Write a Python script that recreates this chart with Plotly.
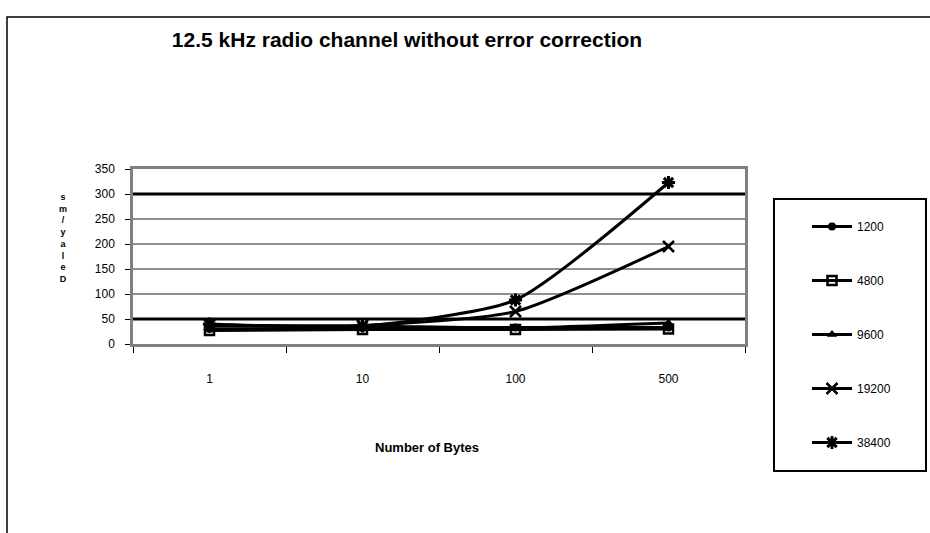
import plotly.graph_objects as go

# Message size categories (bytes) and measured delay (ms) per baud rate
byte_counts = ["1", "10", "100", "500"]
delay_1200 = [30, 32, 33, 33]
delay_4800 = [27, 29, 29, 30]
delay_9600 = [36, 36, 32, 42]
delay_19200 = [38, 37, 65, 195]
delay_38400 = [40, 36, 88, 323]

series = [
    ("1200", delay_1200, dict(symbol="circle", size=8, color="black")),
    ("4800", delay_4800, dict(symbol="square-open", size=9, color="black", line=dict(width=2.5, color="black"))),
    ("9600", delay_9600, dict(symbol="triangle-up", size=9, color="black")),
    ("19200", delay_19200, dict(symbol="x-thin-open", size=11, color="black", line=dict(width=2.5, color="black"))),
    ("38400", delay_38400, dict(symbol="asterisk-open", size=11, color="black", line=dict(width=3, color="black"))),
]

y_ticks = [0, 50, 100, 150, 200, 250, 300, 350]
bold_grid = [50, 300]
y_label = "Delay/ms"

W, H = 930, 533
L, R, T, B = 133, 745, 169, 344
pw, ph = R - L, B - T
FONT = "Liberation Sans, Arial"


def px(x):
    return (x - L) / pw


def py(y):
    return (B - y) / ph


fig = go.Figure()
for name, vals, marker in series:
    fig.add_trace(go.Scatter(
        x=byte_counts, y=vals, name=name, mode="lines+markers",
        line=dict(color="black", width=3, shape="spline", smoothing=0.6),
        marker=marker, legendgroup=name,
    ))

shapes = []
# horizontal gridlines, the 50 and 300 levels drawn heavier
for g in y_ticks[1:-1]:
    heavy = g in bold_grid
    shapes.append(dict(type="line", xref="paper", yref="y", x0=0, x1=1, y0=g, y1=g,
                       line=dict(color="black" if heavy else "#6a6a6a", width=3 if heavy else 1.5),
                       layer="below"))
# outer chart frame
shapes.append(dict(type="rect", xref="paper", yref="paper",
                   x0=px(7), x1=px(940), y0=py(17), y1=py(545),
                   line=dict(color="black", width=1.5), layer="below"))
# legend box
shapes.append(dict(type="rect", xref="paper", yref="paper",
                   x0=px(774), x1=px(926), y0=py(199), y1=py(471),
                   line=dict(color="black", width=2), layer="below"))

annotations = [
    dict(text="<b>Number of Bytes</b>", x=px(427), y=py(457), xref="paper", yref="paper",
         showarrow=False, font=dict(family=FONT, size=13, color="black")),
    # y-axis caption as a stack of letters, read bottom-up
    dict(text="<b>" + "<br>".join(reversed(y_label)) + "</b>", x=px(57), y=py(238),
         xref="paper", yref="paper", showarrow=False, align="center",
         font=dict(family=FONT, size=9, color="black")),
]

fig.update_layout(
    width=W, height=H,
    margin=dict(l=L, r=W - R, t=T, b=H - B, pad=0),
    paper_bgcolor="white", plot_bgcolor="rgba(0,0,0,0)",
    title=dict(text="<b>12.5 kHz radio channel without error correction</b>",
               x=407 / W, xanchor="center", y=1 - 40 / H, yanchor="middle",
               font=dict(family=FONT, size=21, color="black")),
    font=dict(family=FONT, size=12, color="black"),
    xaxis=dict(type="category", categoryorder="array", categoryarray=byte_counts,
               range=[-0.5, len(byte_counts) - 0.5],
               tickson="boundaries", ticks="outside", ticklen=6, tickcolor="black", tickwidth=1,
               showgrid=False, showline=True, linecolor="#808080", linewidth=2.5, mirror=True,
               ticklabelstandoff=22, tickfont=dict(size=12, color="black"), zeroline=False),
    yaxis=dict(range=[0, 350], tickvals=y_ticks, ticks="outside", ticklen=5, tickcolor="black",
               showgrid=False,
               showline=True, linecolor="#808080", linewidth=2.5, mirror=True,
               ticklabelstandoff=8, tickfont=dict(size=12, color="black"), zeroline=False),
    legend=dict(x=px(807), xanchor="left", y=py(212), yanchor="top",
                bgcolor="rgba(0,0,0,0)", borderwidth=0, tracegroupgap=35,
                font=dict(size=12, color="black"), itemwidth=40, maxheight=500),
    showlegend=True,
    shapes=shapes,
    annotations=annotations,
)

fig.write_html("out.html")
